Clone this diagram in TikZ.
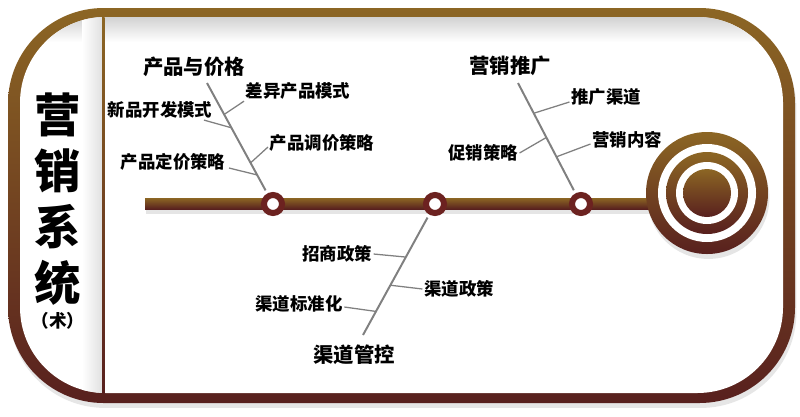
\documentclass[tikz,border=0pt]{standalone}
\usepackage{fontspec}
\usepackage{tikz}
\usetikzlibrary{positioning, calc, shadows}
\newfontfamily\cjk{Noto Sans CJK SC}
\definecolor{mygold}{RGB}{140,102,36}
\definecolor{mymaroon}{RGB}{88,32,30}
\definecolor{myring}{RGB}{108,34,32}
\definecolor{mytwig}{RGB}{128,128,128}
\definecolor{myshade}{RGB}{210,210,210}
\tikzset{
  headlabel/.style={font=\cjk\bfseries\fontsize{14.5}{16}\selectfont, inner sep=1pt},
  leaflabel/.style={font=\cjk\bfseries\fontsize{12.4}{14}\selectfont, inner sep=1pt},
  spot/.style={circle, draw=myring, fill=white, line width=4.3pt,
    minimum size=12.8pt, inner sep=0pt},
  bone/.style={color=mytwig, line width=1.4pt, shorten >=2.5pt},
  twig/.style={color=mytwig, line width=0.9pt},
  goldshade/.style={top color=mygold, bottom color=mymaroon}
}

\begin{document}
\begin{tikzpicture}[x=0.025cm, y=-0.025cm,
  softshadow/.style={drop shadow={opacity=0.2, shadow xshift=1pt, shadow yshift=-3.5pt, fill=black!50}}]
  \useasboundingbox (0,0) rectangle (800,416);

  % Frame
  \path[goldshade, rounded corners=68pt, softshadow] (8,8) rectangle (795,403);
  \fill[white, rounded corners=61pt] (20,17) rectangle (783,393);
  \begin{scope}
    \clip[rounded corners=61pt] (20,17) rectangle (783,393);
    \shade[top color=myshade, bottom color=white] (20,17) rectangle (783,42);
    \shade[left color=white, right color=black!12] (82,17) rectangle (102,393);
  \end{scope}
  \shade[goldshade] (102,17) rectangle (104.5,393);

  % Spine and target
  \path[goldshade, softshadow] (145,198) rectangle (660,209);
  \coordinate (tgt) at (707,193);
  \path[goldshade, softshadow] (tgt) circle (61);
  \fill[white] (tgt) circle (49);
  \path[goldshade] (tgt) circle (41);
  \fill[white] (tgt) circle (31);
  \path[goldshade] (tgt) circle (24);

  % Spots on the spine
  \node[spot] (c1) at (273,204) {};
  \node[spot] (c2) at (435,204) {};
  \node[spot] (c3) at (581,204) {};

  % Title
  \node[font=\cjk\bfseries\fontsize{33}{40}\selectfont, align=center, inner sep=0pt] (title) at (58,199) {营\\销\\系\\统};
  \node[font=\cjk\bfseries\fontsize{12.5}{14}\selectfont, below=1pt of title] (sub) {（术）};

  % Head labels
  \node[headlabel] (h1) at (194,67) {产品与价格};
  \node[headlabel] (h2) at (354,355) {渠道管控};
  \node[headlabel] (h3) at (510,66) {营销推广};

  % Leaf labels
  \node[leaflabel] (l11) at (160,110) {新品开发模式};
  \node[leaflabel] (l12) at (298,91) {差异产品模式};
  \node[leaflabel] (l13) at (322,143) {产品调价策略};
  \node[leaflabel] (l14) at (173,162) {产品定价策略};
  \node[leaflabel] (l21) at (337,254) {招商政策};
  \node[leaflabel] (l22) at (299,304) {渠道标准化};
  \node[leaflabel] (l23) at (459,289) {渠道政策};
  \node[leaflabel] (l31) at (606,97) {推广渠道};
  \node[leaflabel] (l32) at (483,153) {促销策略};
  \node[leaflabel] (l33) at (627,140) {营销内容};

  % Bones
  \coordinate (a1) at (207,83);
  \coordinate (a2) at (363,335);
  \coordinate (a3) at (518,83);
  \draw[bone] (a1) -- (c1);
  \draw[bone] (a2) -- (c2);
  \draw[bone] (a3) -- (c3);

  % Twigs
  \coordinate (j11) at ($(a1)!0.37!(c1)$);
  \coordinate (j12) at ($(a1)!0.26!(c1)$);
  \coordinate (j13) at ($(a1)!0.66!(c1)$);
  \coordinate (j14) at ($(a1)!0.76!(c1)$);
  \coordinate (j21) at ($(a2)!0.595!(c2)$);
  \coordinate (j22) at ($(a2)!0.18!(c2)$);
  \coordinate (j23) at ($(a2)!0.38!(c2)$);
  \coordinate (j31) at ($(a3)!0.25!(c3)$);
  \coordinate (j32) at ($(a3)!0.45!(c3)$);
  \coordinate (j33) at ($(a3)!0.61!(c3)$);
  \draw[twig] (j11) -- ($(l11.south east)+(-10,0)$);
  \draw[twig] (j12) -- (l12.south west);
  \draw[twig] (j13) -- ($(l13.west)+(0,4)$);
  \draw[twig] (j14) -- ($(l14.east)+(2,6)$);
  \draw[twig] (j21) -- (l21.east);
  \draw[twig] (j22) -- ($(l22.east)+(0,3)$);
  \draw[twig] (j23) -- (l23.west);
  \draw[twig] (j31) -- ($(l31.west)+(0,5)$);
  \draw[twig] (j32) -- (l32.east);
  \draw[twig] (j33) -- ($(l33.west)+(0,4)$);
\end{tikzpicture}
\end{document}
